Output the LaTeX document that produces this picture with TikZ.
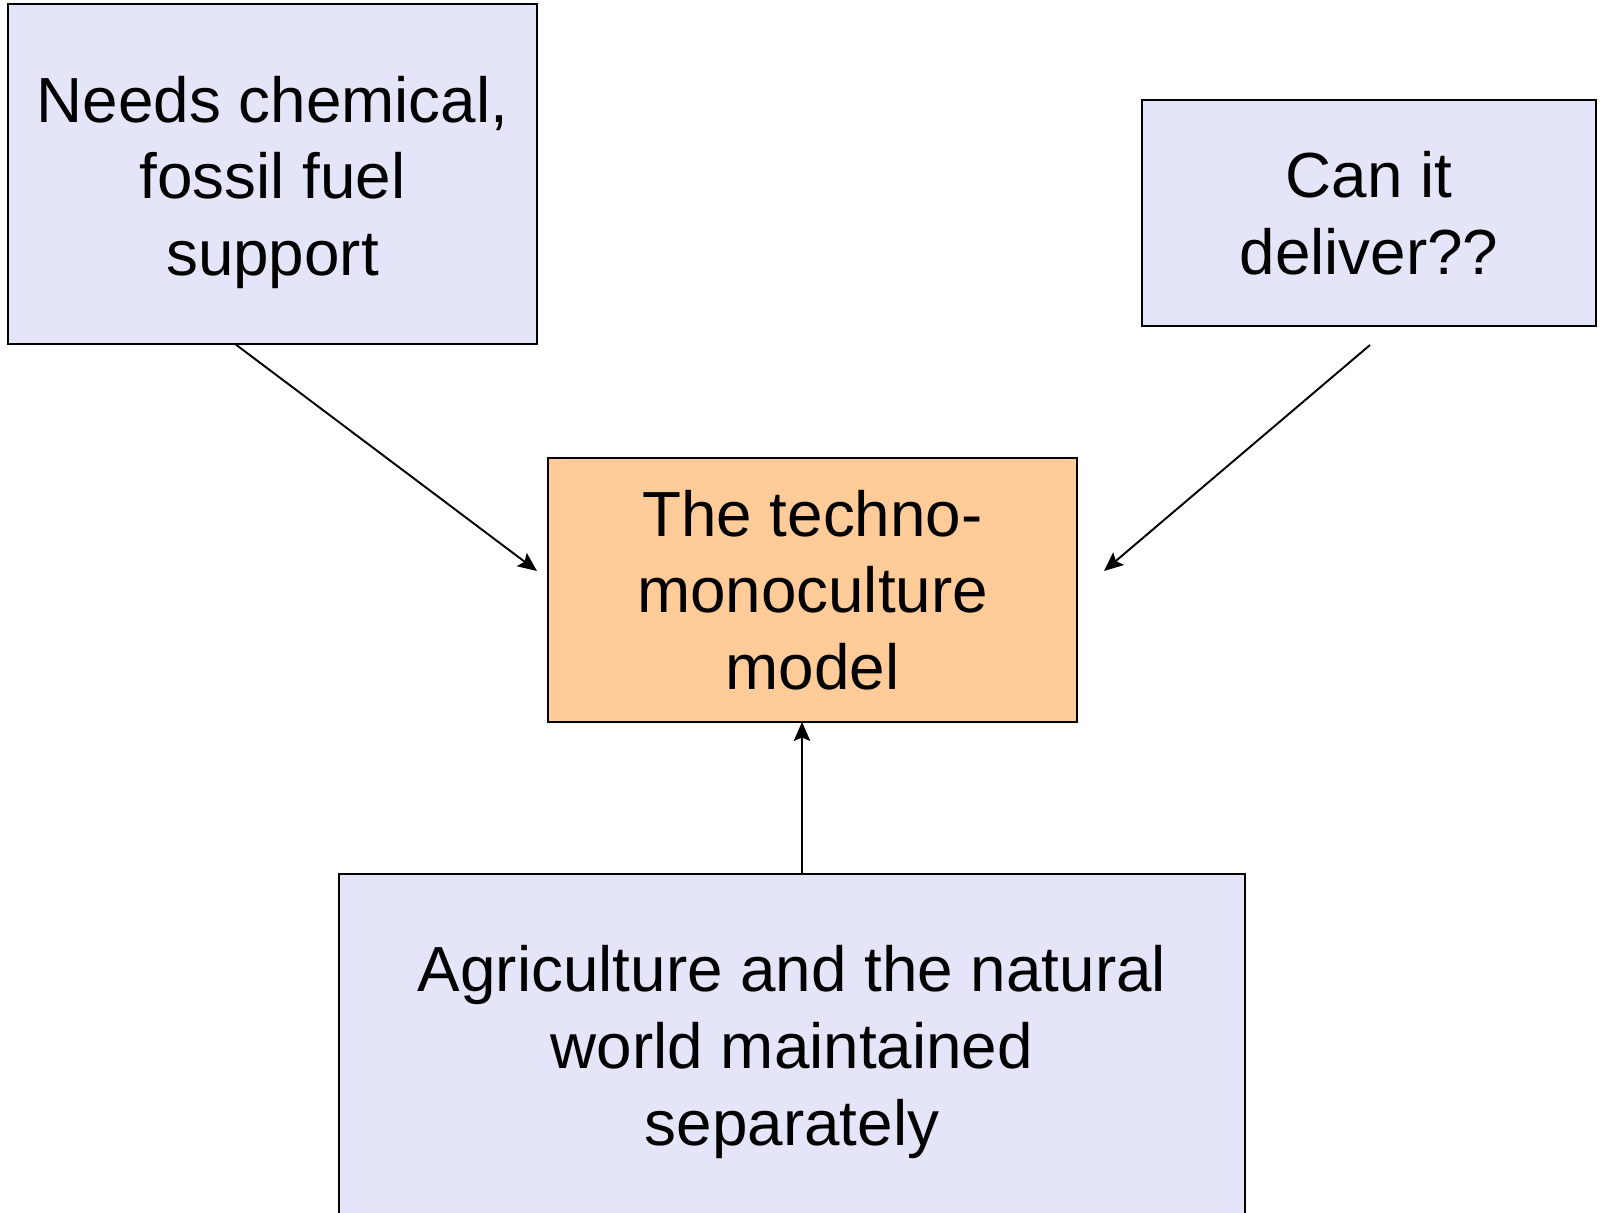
\documentclass[tikz,border=0pt]{standalone}
\usepackage{fontspec}
\setmainfont{Liberation Sans}
\usepackage{xcolor}
\usetikzlibrary{arrows.meta}
\definecolor{lavbox}{RGB}{229,229,250}
\definecolor{peachbox}{RGB}{255,204,153}

\begin{document}
\begin{tikzpicture}[x=0.02cm,y=-0.02cm]
\tikzset{
  bx/.style={rectangle,draw=black,line width=0.8pt,fill=lavbox,inner sep=0pt,outer sep=0pt,align=center,font=\fontsize{36.3}{43.6}\selectfont},
  ar/.style={-{Stealth[length=3.8mm,width=3.3mm,inset=0.7mm]},line width=1.1pt,draw=black}
}
\useasboundingbox (0,0) rectangle (1605,1213);
\node[bx,minimum width=10.58cm,minimum height=6.8cm] (need) at (272.5,174) {\rule{0pt}{1.25cm}Needs chemical,\\fossil fuel\\support};
\node[bx,minimum width=9.08cm,minimum height=4.52cm] (deliv) at (1369,213) {Can it\\deliver??};
\node[bx,fill=peachbox,minimum width=10.58cm,minimum height=5.28cm] (mid) at (812.5,590) {The techno-\\monoculture\\model};
\node[bx,minimum width=18.12cm,minimum height=7.12cm] (bot) at (792,1052) {Agriculture and the natural\\world maintained\\separately};
% free ends of the side arrows
\coordinate (needtip) at (537,571);
\coordinate (delivtail) at (1370,345);
\coordinate (delivtip) at (1104,571);
\draw[ar] ([xshift=-0.75cm]need.south) -- (needtip);
\draw[ar] (delivtail) -- (delivtip);
\draw[ar] ([xshift=0.2cm]bot.north) -- ([xshift=-0.21cm]mid.south);
\end{tikzpicture}
\end{document}
